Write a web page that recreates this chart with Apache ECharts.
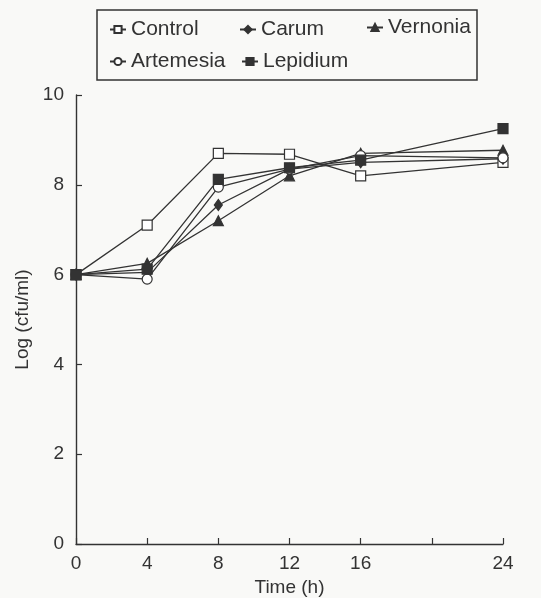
<!DOCTYPE html>
<html>
<head>
<meta charset="utf-8">
<script src="https://cdn.jsdelivr.net/npm/echarts@6/dist/echarts.min.js"></script>
<style>
html,body{margin:0;padding:0;background:#f9f9f7;}
#c{width:541px;height:598px;}
</style>
</head>
<body>
<div id="c"></div>
<script>
const times = [0, 4, 8, 12, 16, 24];
const xTickLabels = ['0', '4', '8', '12', '16', '', '24'];
const yTickLabels = ['0', '2', '4', '6', '8', '10'];
const seriesNames = ['Control', 'Carum', 'Vernonia', 'Artemesia', 'Lepidium'];
const control   = [6.0, 7.1, 8.7, 8.68, 8.2, 8.5];
const carum     = [6.0, 6.05, 7.55, 8.35, 8.5, 8.58];
const vernonia  = [6.0, 6.25, 7.2, 8.2, 8.7, 8.77];
const artemesia = [6.0, 5.9, 7.95, 8.35, 8.65, 8.6];
const lepidium  = [6.0, 6.12, 8.12, 8.38, 8.55, 9.25];

const ink = '#333';
const font = 'Liberation Sans, Arial, Helvetica, sans-serif';
function pts(arr){ return times.map((t,i)=>[t, arr[i]]); }

const styles = {
  Control:   {symbol:'rect', size:10, fill:'#fff'},
  Carum:     {symbol:'diamond', size:[8,11], fill:ink},
  Vernonia:  {symbol:'triangle', size:10, fill:ink},
  Artemesia: {symbol:'circle', size:10, fill:'#fff'},
  Lepidium:  {symbol:'rect', size:10, fill:ink}
};
const dataMap = {Control:control, Carum:carum, Vernonia:vernonia, Artemesia:artemesia, Lepidium:lepidium};

const legendPos = {
  Control:   {left:109, top:19},
  Carum:     {left:239, top:19},
  Vernonia:  {left:366, top:17},
  Artemesia: {left:109, top:51},
  Lepidium:  {left:241, top:51}
};

const chart = echarts.init(document.getElementById('c'));
chart.setOption({
  backgroundColor:'#f9f9f7',
  animation:false,
  grid:{left:76, right:38, top:95, bottom:54, outerBoundsMode:'none', containLabel:false},
  legend: seriesNames.map(n=>({
    data:[n], left:legendPos[n].left, top:legendPos[n].top,
    itemWidth:16, itemHeight:9, itemGap:0, padding:0,
    textStyle:{fontFamily:font, fontSize:21, color:ink}
  })),
  graphic:[{type:'rect', shape:{x:97, y:10, width:380, height:70},
    style:{fill:'none', stroke:ink, lineWidth:1.5}}],
  xAxis:{
    type:'value', min:0, max:24, interval:4,
    name:'Time (h)', nameLocation:'middle', nameGap:34,
    nameTextStyle:{fontFamily:font, fontSize:19, color:ink},
    axisLine:{lineStyle:{color:ink, width:1.4}},
    axisTick:{inside:true, length:6, lineStyle:{color:ink, width:1.2}},
    axisLabel:{fontFamily:font, fontSize:19, color:ink, margin:10,
      formatter:(v)=>xTickLabels[Math.round(v/4)]},
    splitLine:{show:false}
  },
  yAxis:{
    type:'value', min:0, max:10, interval:2,
    name:'Log (cfu/ml)', nameLocation:'middle', nameGap:44,
    nameTextStyle:{fontFamily:font, fontSize:19, color:ink},
    axisLine:{show:true, lineStyle:{color:ink, width:1.4}},
    axisTick:{show:true, inside:true, length:6, lineStyle:{color:ink, width:1.2}},
    axisLabel:{fontFamily:font, fontSize:19, color:ink, margin:12,
      formatter:(v)=>yTickLabels[Math.round(v/2)]},
    splitLine:{show:false}
  },
  series: seriesNames.map(n=>({
    name:n, type:'line', data:pts(dataMap[n]),
    symbol:styles[n].symbol, symbolSize:styles[n].size, showAllSymbol:true,
    lineStyle:{color:ink, width:1.3},
    itemStyle:{color:styles[n].fill, borderColor:ink, borderWidth:1.2}
  }))
});
</script>
</body>
</html>
